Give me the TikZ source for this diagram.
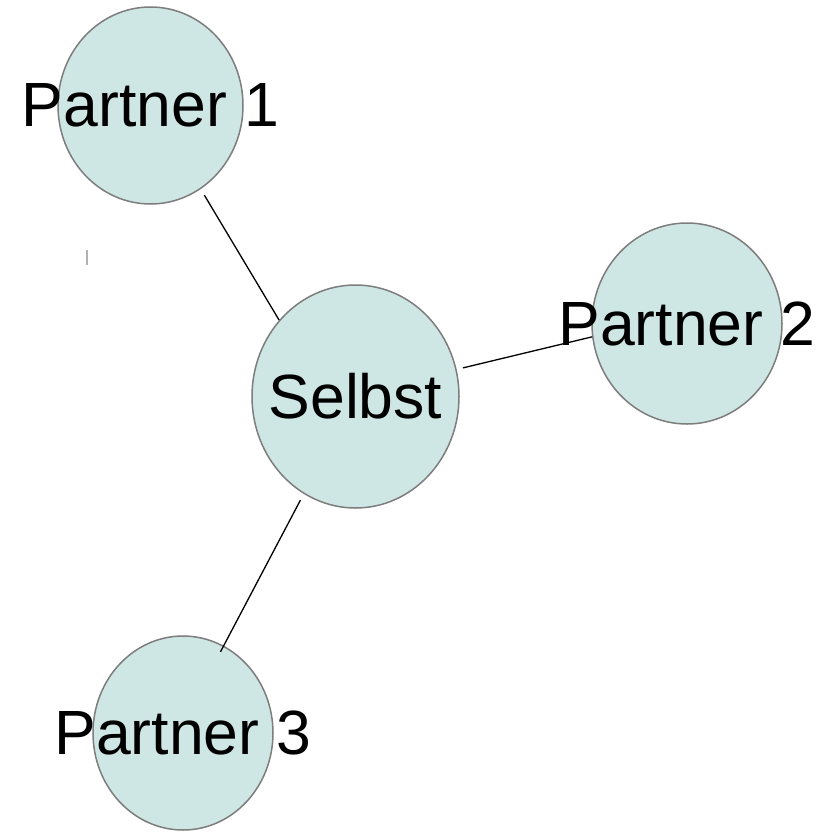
\documentclass[tikz,border=0pt]{standalone}
\usepackage{fontspec}
\setmainfont{Liberation Sans}
\usetikzlibrary{shapes.geometric}
\definecolor{bubblefill}{RGB}{207,231,228}
\definecolor{bubbleline}{RGB}{125,125,125}
\tikzset{
  bubble/.style={ellipse, draw=bubbleline, line width=1.5bp, fill=bubblefill, inner sep=0pt},
  lbl/.style={inner sep=0pt, font=\fontsize{62.5bp}{75bp}\selectfont, text=black},
  conn/.style={draw=black, line width=1.3bp},
  tick/.style={draw=black!30, line width=1.2bp}
}
\begin{document}
\begin{tikzpicture}[x=1bp, y=-1bp]
\useasboundingbox (0,0) rectangle (827,832);
\node[bubble, minimum width=185bp, minimum height=197bp] (p1) at (150.5,105.5) {};
\node[bubble, minimum width=207bp, minimum height=223bp] (sel) at (355.5,396.5) {};
\node[bubble, minimum width=190bp, minimum height=201bp] (p2) at (687,323.5) {};
\node[bubble, minimum width=180bp, minimum height=194bp] (p3) at (183,733) {};
\node[lbl] (p1t) at (p1.center) {Partner 1};
\node[lbl] (selt) at (sel.center) {Selbst};
\node[lbl] (p2t) at (p2.center) {Partner 2};
\node[lbl] (p3t) at (p3.center) {Partner 3};
\draw[conn, shorten <=7bp] (p1.-59.6) -- (sel.135.8);
\draw[conn, shorten <=6.5bp] (sel.15.5) -- (p2.188.7);
\draw[conn, shorten <=7bp, shorten >=-7bp] (sel.-118.1) -- (p3.65.3);
\coordinate (tka) at (87,250);
\coordinate (tkb) at (87,265);
\draw[tick] (tka) -- (tkb);
\end{tikzpicture}
\end{document}
